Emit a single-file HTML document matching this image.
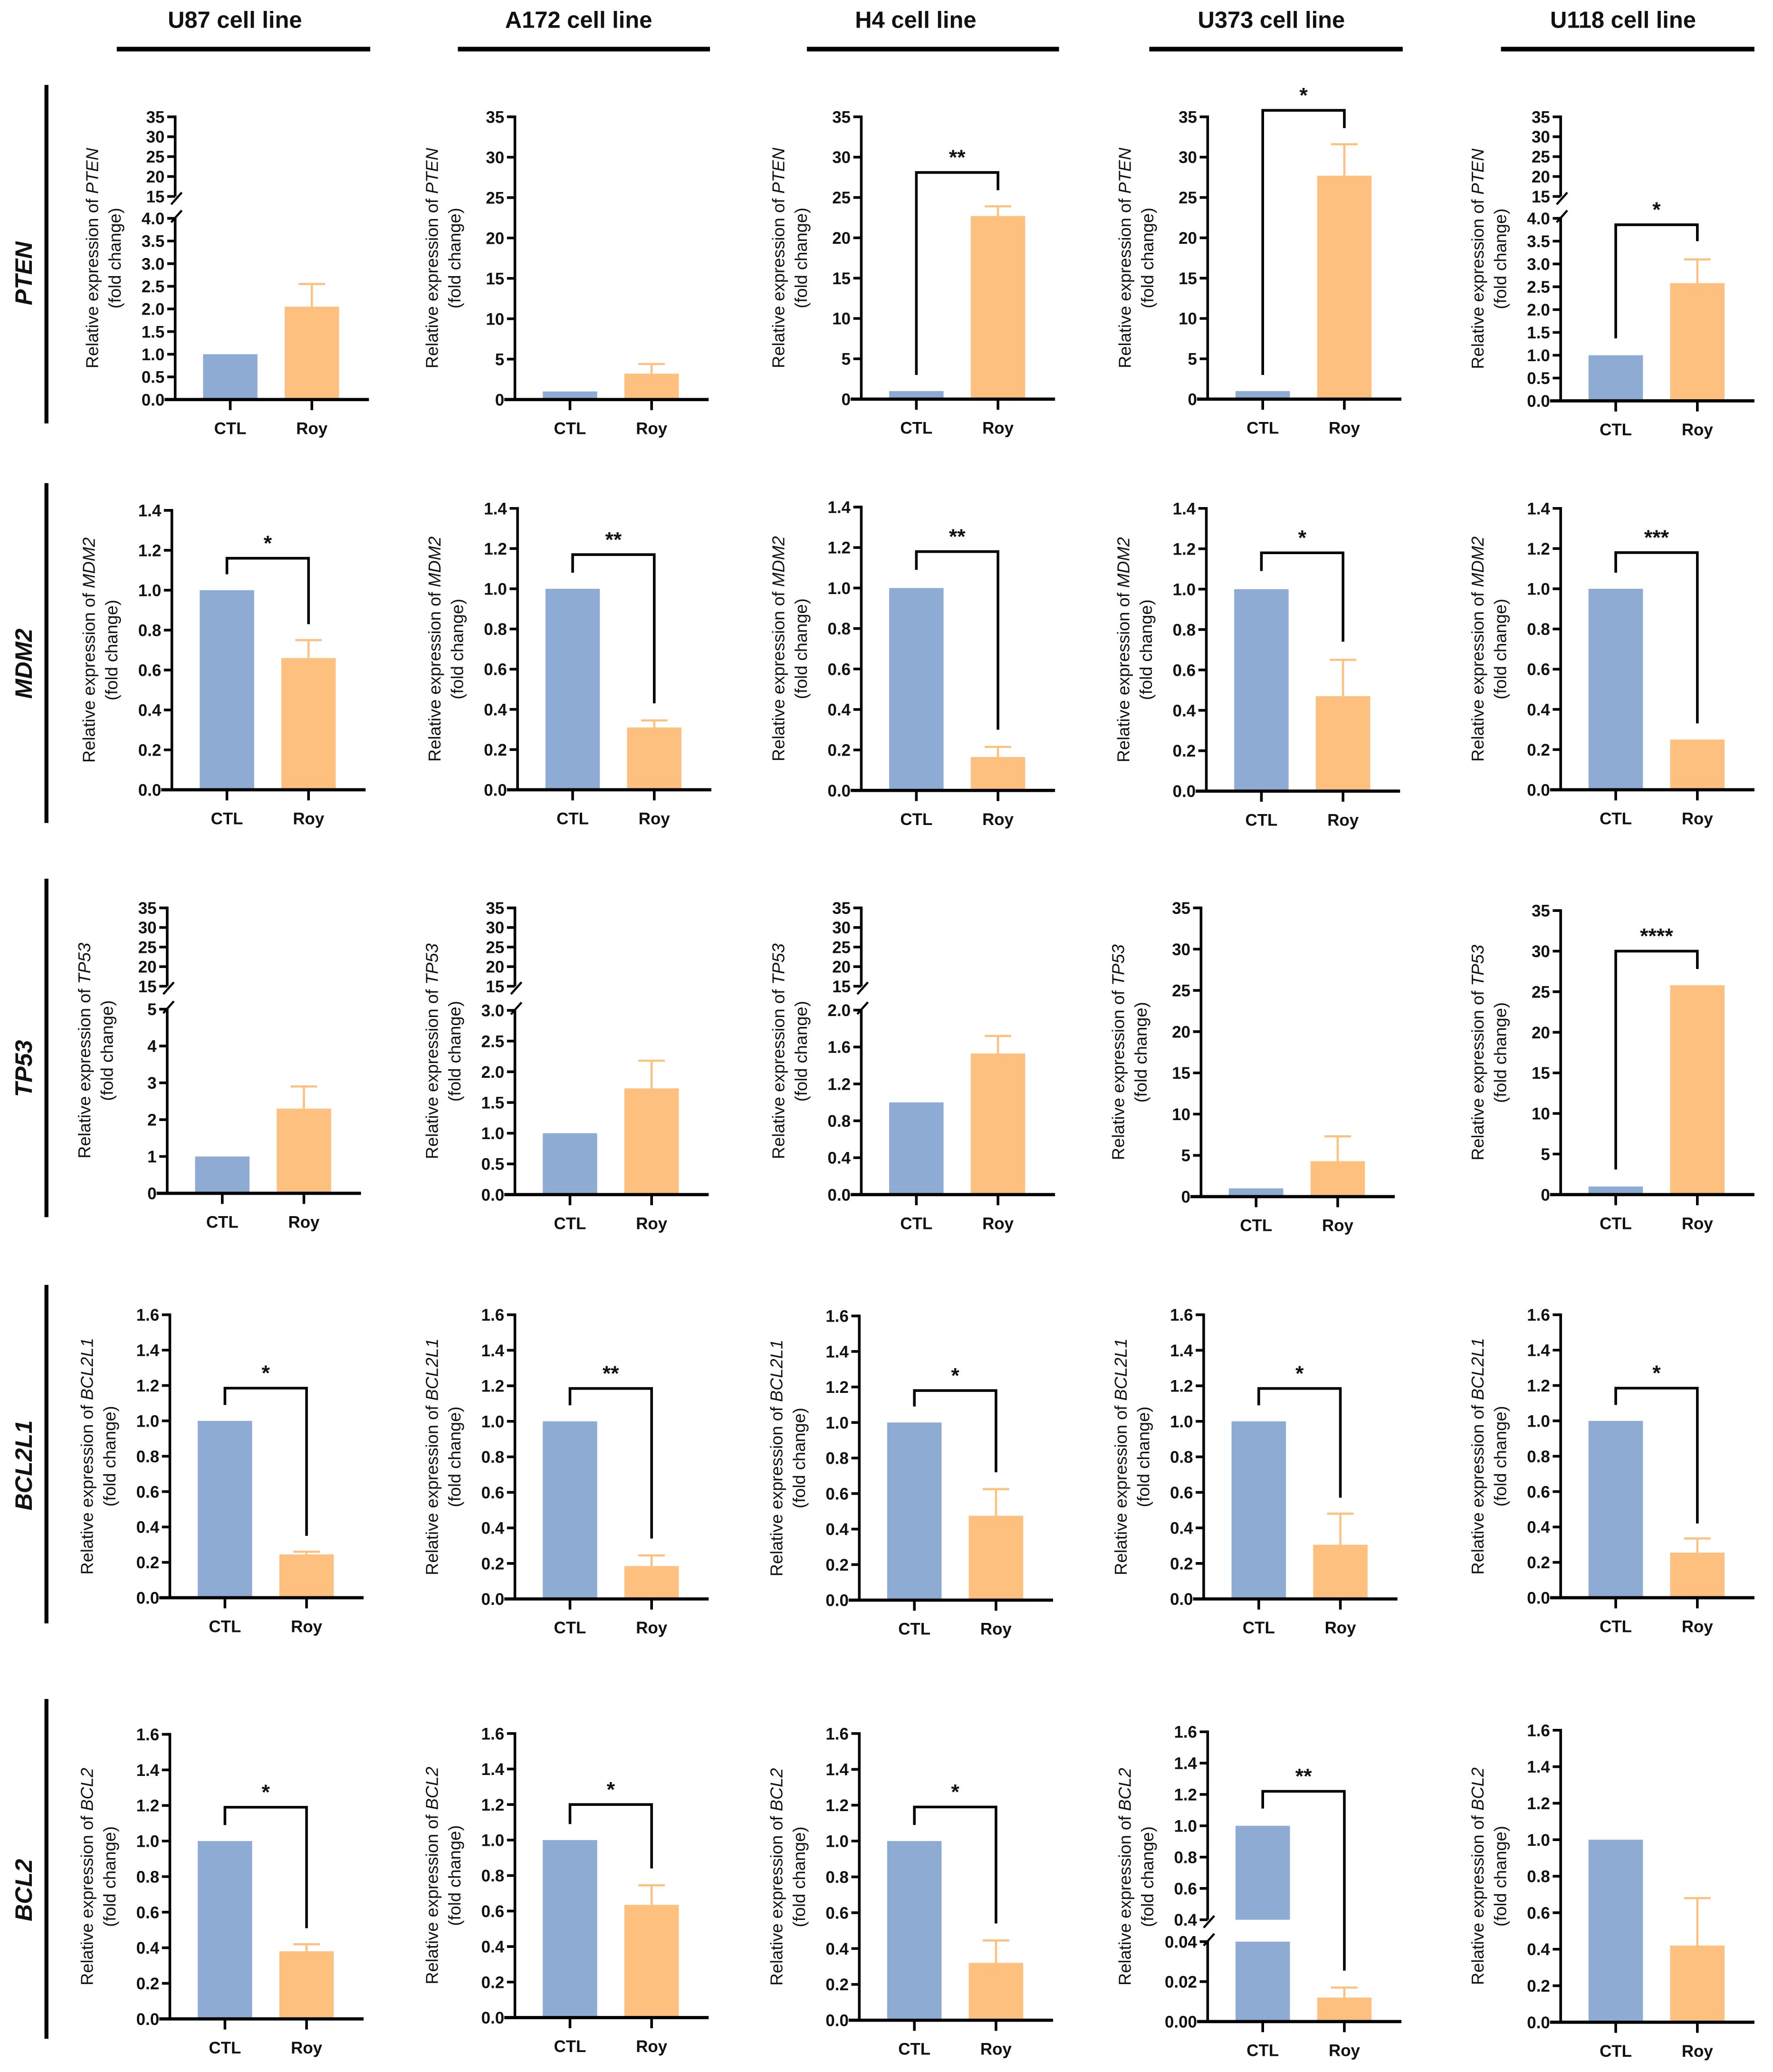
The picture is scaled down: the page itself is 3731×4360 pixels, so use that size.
<!DOCTYPE html>
<html><head><meta charset="utf-8"><style>
html,body{margin:0;padding:0;background:#fff;}
svg{display:block;font-family:"Liberation Sans",sans-serif;}
</style></head><body>
<svg id="fig" width="3731" height="4360" viewBox="0 0 1336 1561" preserveAspectRatio="none" xmlns="http://www.w3.org/2000/svg"></svg>
<script>
const genes = ['PTEN','MDM2','TP53','BCL2L1','BCL2'];
const cells = ['U87','A172','H4','U373','U118'];
const ctlValues = [[1,1,1,1,1],[1,1,1,1,1],[1,1,1,1,1],[1,1,1,1,1],[1,1,1,1,1]];
const royValues = [[2.05,3.2,22.7,27.7,2.58],[0.66,0.31,0.165,0.47,0.25],[2.3,1.73,1.53,4.3,25.8],[0.245,0.185,0.475,0.305,0.255],[0.38,0.635,0.32,0.012,0.42]];
const royErrors = [[2.55,4.4,23.9,31.6,3.1],[0.75,0.345,0.215,0.65,null],[2.9,2.18,1.72,7.3,null],[0.26,0.245,0.625,0.48,0.335],[0.42,0.745,0.445,0.017,0.68]];
const sigLabels = [['','','**','*','*'],['*','**','**','*','***'],['','','','','****'],['*','**','*','*','*'],['*','*','*','**','']];
const bracketTop = [[0,0,28.1,35.8,3.86],[1.16,1.17,1.18,1.18,1.18],[0,0,0,0,30.0],[1.185,1.185,1.18,1.185,1.185],[1.19,1.2,1.19,1.22,0]];
const bracketLeft = [[0,0,3,3,1.37],[1.08,1.08,1.09,1.09,1.08],[0,0,0,0,3.1],[1.09,1.09,1.09,1.09,1.09],[1.09,1.09,1.09,1.11,0]];
const bracketRight = [[0,0,25.9,33.6,3.5],[0.83,0.43,0.3,0.74,0.33],[0,0,0,0,27.8],[0.35,0.34,0.72,0.57,0.42],[0.51,0.84,0.54,0.0255,0]];
// axis segments: [lo, hi, tickStep, decimals]
const axisRanges = [
 [[[0,4,0.5,1],[15,35,5,0]],[[0,35,5,0]],[[0,35,5,0]],[[0,35,5,0]],[[0,4,0.5,1],[15,35,5,0]]],
 [[[0,1.4,0.2,1]],[[0,1.4,0.2,1]],[[0,1.4,0.2,1]],[[0,1.4,0.2,1]],[[0,1.4,0.2,1]]],
 [[[0,5,1,0],[15,35,5,0]],[[0,3,0.5,1],[15,35,5,0]],[[0,2,0.4,1],[15,35,5,0]],[[0,35,5,0]],[[0,35,5,0]]],
 [[[0,1.6,0.2,1]],[[0,1.6,0.2,1]],[[0,1.6,0.2,1]],[[0,1.6,0.2,1]],[[0,1.6,0.2,1]]],
 [[[0,1.6,0.2,1]],[[0,1.6,0.2,1]],[[0,1.6,0.2,1]],[[0,0.04,0.02,2],[0.4,1.6,0.2,1]],[[0,1.6,0.2,1]]]
];
</script>
<script>
const axisX = [[132,388,649,910,1176],[129.5,390,649,909,1176],[126,388,649,905,1176],[128,388,647.5,907,1176],[128,388,647.5,910,1176]];
const segPix = [
 [[[301,164.5],[148,88]],[[301,88]],[[300.7,88]],[[300.7,88]],[[302,164.5],[148,88]]],
 [[[595,384.5]],[[595,383]],[[595.5,382]],[[596,383]],[[595,383]]],
 [[[899,760.3],[743,684]],[[900,761.2],[743,684]],[[900,761],[743,684]],[[901.5,684]],[[900,686]]],
 [[[1203.7,990.5]],[[1204.6,990.5]],[[1205.5,991.4]],[[1204.6,990.5]],[[1203.7,990.5]]],
 [[[1521,1306.6]],[[1520,1306]],[[1522,1306]],[[1523,1462.8],[1446.3,1304.7]],[[1523.5,1303.5]]]
];
const headerX = [177,436,690,958,1223];
const headerLines = [[88,279],[345,535],[608,798],[866,1057],[1131,1322]];
const rowLines = [[64,319],[364,620],[662,917],[968,1223],[1280,1536]];
const rowLabelY = [206,500,805,1104,1424];

const NS='http://www.w3.org/2000/svg';
const svg=document.getElementById('fig');
function mk(tag,attrs,parent){const e=document.createElementNS(NS,tag);for(const k in attrs)e.setAttribute(k,attrs[k]);(parent||svg).appendChild(e);return e;}
const BLUE='#8DABD3', ORANGE='#FDC07F';

cells.forEach((c,j)=>{
  const t=mk('text',{x:headerX[j],y:21,'text-anchor':'middle','font-size':17.5,'font-weight':'bold',fill:'#111'});
  
  
  t.textContent=c+' cell line';
  const l=mk('line',{x1:headerLines[j][0],x2:headerLines[j][1],y1:37,y2:37,stroke:'#000','stroke-width':3.5});
  
  
});
genes.forEach((g,i)=>{
  const l=mk('line',{x1:35,x2:35,y1:rowLines[i][0],y2:rowLines[i][1],stroke:'#000','stroke-width':3});
  
  
  const t=mk('text',{x:0,y:0,'text-anchor':'middle','font-size':18,'font-weight':'bold','font-style':'italic',fill:'#111',transform:`translate(24,${rowLabelY[i]}) rotate(-90)`});
  
  
  t.textContent=g;
});

function makeY(ranges,pix){
  return function(v){
    for(let k=0;k<ranges.length;k++){
      const [lo,hi]=ranges[k];const [a,b]=pix[k];
      if(v>=lo&&v<=hi||k===ranges.length-1||v<ranges[k+1][0]&&v<=hi) return a+(v-lo)/(hi-lo)*(b-a);
    }
  };
}
function fmt(v,d){return v.toFixed(d);}

genes.forEach((g,i)=>{cells.forEach((c,j)=>{
  const G=mk('g',{});
  
  
  const x0=axisX[i][j], ranges=axisRanges[i][j], pix=segPix[i][j];
  const y=makeY(ranges,pix);
  const yb=pix[0][0], ytop=pix[pix.length-1][1];
  const ctlC=x0+41.5, royC=x0+103, bw=41;
  [[ctlValues[i][j],ctlC,BLUE,'ctl'],[royValues[i][j],royC,ORANGE,'roy']].forEach(([v,cx,col,nm])=>{
    ranges.forEach((r,k)=>{
      if(v<=r[0]) return;
      const top=Math.min(v,r[1]);
      const y1=pix[k][0], y2=y(top);
      const b=mk('rect',{x:cx-bw/2,y:y2,width:bw,height:Math.max(0,y1-y2),fill:col},G);
      
      
    });
  });
  const e=royErrors[i][j];
  if(e!==null){
    const el=mk('path',{d:`M${royC},${y(royValues[i][j])}V${y(e)}M${royC-10},${y(e)}H${royC+10}`,stroke:ORANGE,'stroke-width':1.6,fill:'none'},G);
    
    
  }
  ranges.forEach((r,k)=>{
    const al=mk('line',{x1:x0,x2:x0,y1:pix[k][0]+(k===0?1:0),y2:pix[k][1]-1,stroke:'#000','stroke-width':2},G);
    
    
    const n=Math.round((r[1]-r[0])/r[2]);
    for(let t=0;t<=n;t++){
      const v=r[0]+t*r[2], yy=y(v);
      mk('line',{x1:x0-6,x2:x0,y1:yy,y2:yy,stroke:'#000','stroke-width':2},G);
      const tl=mk('text',{x:x0-8,y:yy+4.5,'text-anchor':'end','font-size':12.5,'font-weight':'bold',fill:'#111'},G);
      
      
      tl.textContent=fmt(v,r[3]);
    }
    if(k>0){
      const ya=pix[k-1][1], yc=pix[k][0];
      mk('line',{x1:x0-3,y1:ya+3,x2:x0+5,y2:ya-6,stroke:'#000','stroke-width':1.6},G);
      mk('line',{x1:x0-3,y1:yc+6,x2:x0+5,y2:yc-3,stroke:'#000','stroke-width':1.6},G);
    }
  });
  const xa=mk('line',{x1:x0-8,x2:x0+146,y1:yb,y2:yb,stroke:'#000','stroke-width':2.4},G);
  
  
  [[ctlC,'CTL'],[royC,'Roy']].forEach(([cx,lab])=>{
    mk('line',{x1:cx,x2:cx,y1:yb,y2:yb+8,stroke:'#000','stroke-width':2},G);
    const t=mk('text',{x:cx,y:yb+26,'text-anchor':'middle','font-size':12.5,'font-weight':'bold',fill:'#111'},G);
    
    
    t.textContent=lab;
  });
  const cy=(yb+ytop)/2;
  const t1=mk('text',{x:0,y:0,'text-anchor':'middle','font-size':13,fill:'#111',transform:`translate(${x0-58},${cy}) rotate(-90)`},G);
  
  
  t1.appendChild(document.createTextNode('Relative expression of '));
  const ts=mk('tspan',{'font-style':'italic'},t1);ts.textContent=g;
  const t2=mk('text',{x:0,y:0,'text-anchor':'middle','font-size':13,fill:'#111',transform:`translate(${x0-41},${cy}) rotate(-90)`},G);
  
  
  t2.textContent='(fold change)';
  if(sigLabels[i][j]){
    const bt=y(bracketTop[i][j]);
    const br=mk('path',{d:`M${ctlC},${y(bracketLeft[i][j])}V${bt}H${royC}V${y(bracketRight[i][j])}`,stroke:'#000','stroke-width':2,fill:'none'},G);
    
    
    const st=mk('text',{x:(ctlC+royC)/2,y:bt-6,'text-anchor':'middle','font-size':16,'font-weight':'bold',fill:'#111'},G);
    
    
    st.textContent=sigLabels[i][j];
  }
});});
</script>
</body></html>
